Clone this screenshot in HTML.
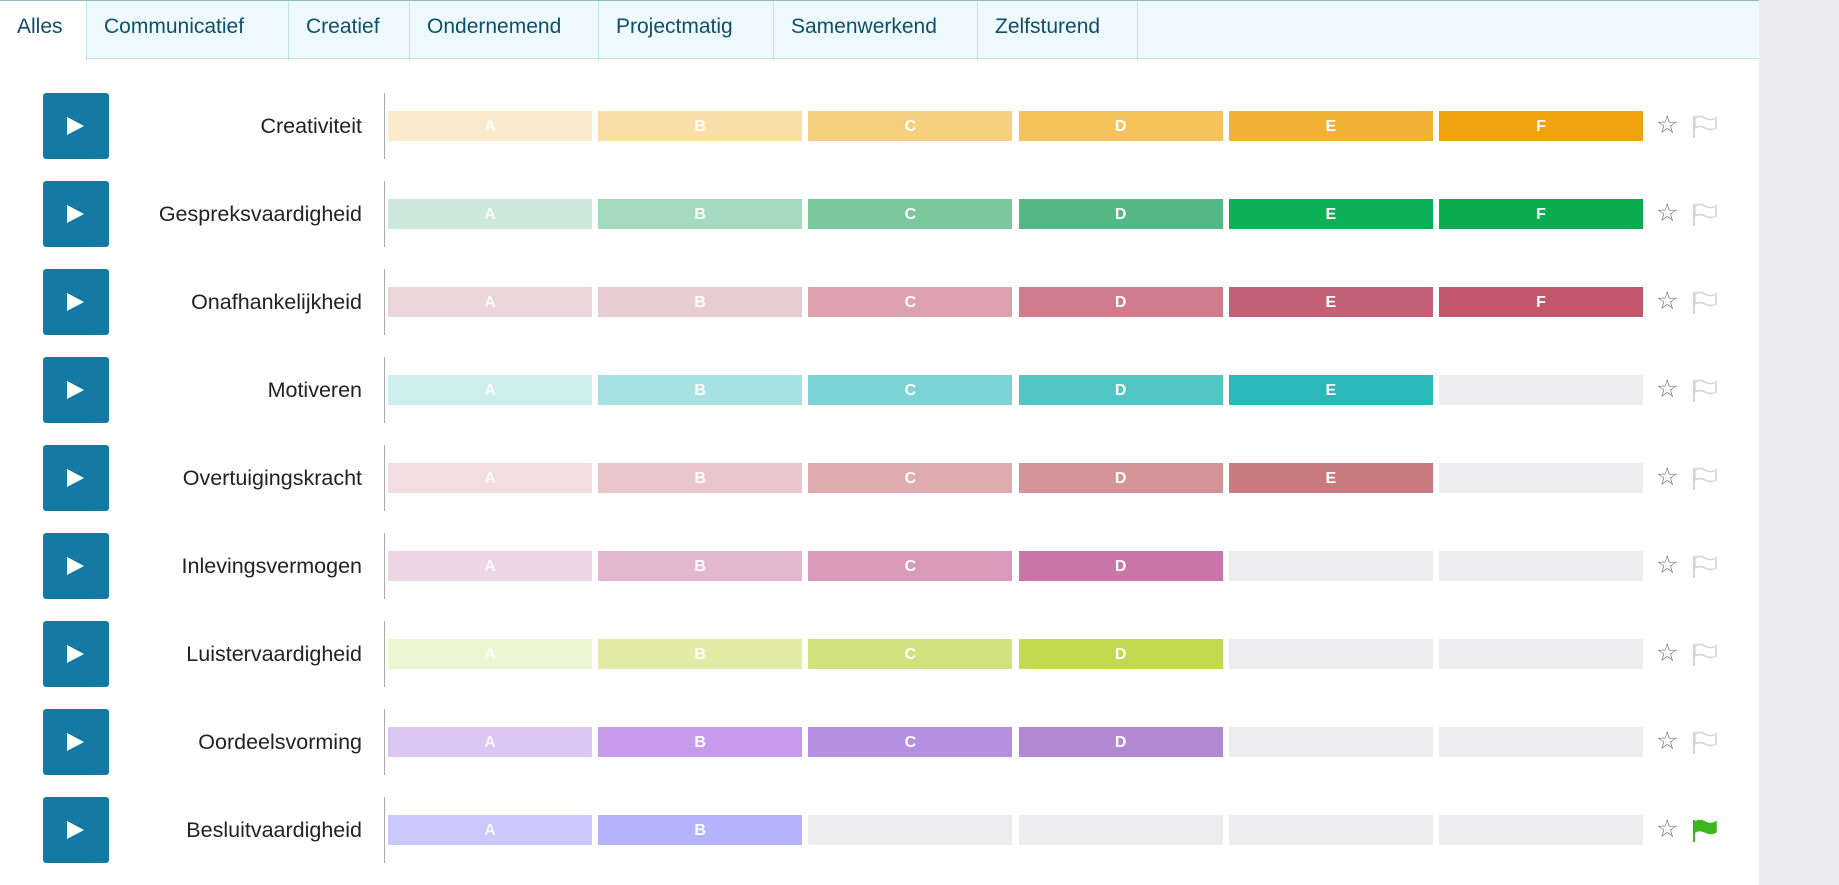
<!DOCTYPE html>
<html><head><meta charset="utf-8"><style>
*{margin:0;padding:0;box-sizing:border-box}
body{width:1839px;height:885px;background:#fff;position:relative;overflow:hidden;font-family:"Liberation Sans",Arial,sans-serif}
.side{position:absolute;left:1759px;top:0;width:80px;height:885px;background:#ececee}
.topline{position:absolute;left:0;top:0;width:1759px;height:1px;background:#8fb8c0}
.tabbar{position:absolute;left:0;top:1px;width:1759px;height:58px;background:#eef9fe;border-bottom:1px solid #c4dfe6}
.tab{position:absolute;top:1px;height:59px;border-right:1px solid #c4dfe6;color:#0e4f6a;font-size:21px;line-height:52px;padding-left:17px;white-space:nowrap}
.tab.act{background:#fff;height:60px;border-bottom:none}
.btn{position:absolute;left:43px;width:66px;height:66px;background:#137ba3;border-radius:3px}
.btn:after{content:"";position:absolute;left:24px;top:24px;border-left:17px solid #fff;border-top:9px solid transparent;border-bottom:9px solid transparent}
.lbl{position:absolute;right:1477px;font-size:21.5px;color:#222;line-height:66px}
.sep{position:absolute;left:384px;width:1px;height:66px;background:#aaa}
.bar{position:absolute;width:204px;height:30px;color:#fff;font-weight:bold;font-size:16px;line-height:32px;text-align:center}
.star{position:absolute;left:1656px;font-size:25px;color:#7a7680;line-height:30px}
</style></head><body>
<div class="topline"></div>
<div class="tabbar"></div>
<div class="tab act" style="left:0;width:87px">Alles</div>
<div class="tab" style="left:87px;width:202px">Communicatief</div>
<div class="tab" style="left:289px;width:121px">Creatief</div>
<div class="tab" style="left:410px;width:189px">Ondernemend</div>
<div class="tab" style="left:599px;width:175px">Projectmatig</div>
<div class="tab" style="left:774px;width:204px">Samenwerkend</div>
<div class="tab" style="left:978px;width:160px">Zelfsturend</div>
<div class="side"></div>
<div id="rows"></div>
<script>
var rows=[
["Creativiteit",["#fbebcc","#f9dea8","#f7d07f","#f6c35a","#f1b133","#f0a30c"]],
["Gespreksvaardigheid",["#cde9db","#a4dabe","#7bc89d","#53b883","#0bb057","#09ad50"]],
["Onafhankelijkheid",["#ead5da","#e8ccd3","#dea1ae","#d07b8c","#c26076","#c2566c"]],
["Motiveren",["#cdedee","#a5e2e1","#7cd3d3","#52c6c5","#2ab8b9"]],
["Overtuigingskracht",["#f2dde0","#e8c6c9","#dfabaf","#d49397","#c97a80"]],
["Inlevingsvermogen",["#eed7e4","#e3b6d1","#d899bb","#ca75a7"]],
["Luistervaardigheid",["#eef5d3","#e1eba6","#d1e17b","#c2d950"]],
["Oordeelsvorming",["#dcc6f3","#c69bec","#b78fe0","#b189d2"]],
["Besluitvaardigheid",["#c9c9fb","#b5b3fb"]]];
var h="",L="ABCDEF";
rows.forEach(function(r,i){
 var c=125.5+88*i,t=c-33;
 h+='<div class="btn" style="top:'+t+'px"></div>';
 h+='<div class="lbl" style="top:'+t+'px">'+r[0]+'</div>';
 h+='<div class="sep" style="left:384px;top:'+t+'px"></div>';
 for(var j=0;j<6;j++){
  var col=r[1][j]||"#ededef",txt=r[1][j]?L[j]:"";
  h+='<div class="bar" style="left:'+(388+210.2*j)+'px;top:'+(c-15)+'px;background:'+col+(j==0?';color:rgba(255,255,255,.85)':'')+'">'+txt+'</div>';
 }
 h+='<div class="star" style="top:'+(c-16)+'px">☆</div>';
 var fc=i==8?"#3cb81c":"none",sc=i==8?"#3cb81c":"#d8d0dc";
 h+='<svg style="position:absolute;left:1692px;top:'+(c-11)+'px" width="26" height="24" viewBox="0 0 26 24"><line x1="2" y1="1" x2="2" y2="23" stroke="'+sc+'" stroke-width="2"/><path d="M3 3 Q8 0 13 3 T24 3 V13 Q19 16 13 13 T3 13 Z" fill="'+fc+'" stroke="'+sc+'" stroke-width="1.5"/></svg>';
});
document.getElementById("rows").innerHTML=h;
</script>
</body></html>
